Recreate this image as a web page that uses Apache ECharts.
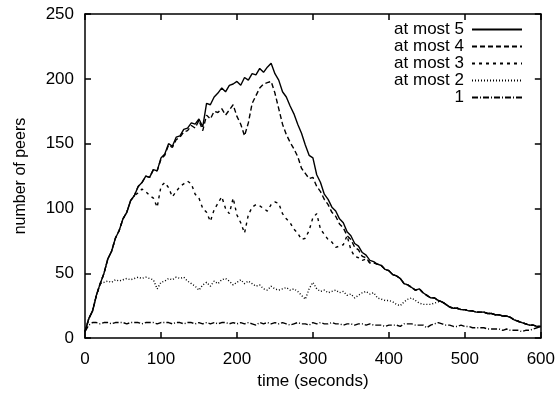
<!DOCTYPE html>
<html>
<head>
    <meta charset="utf-8">
    <title>number of peers</title>
    <script src="https://cdn.jsdelivr.net/npm/echarts@6/dist/echarts.min.js"></script>
    <style>
        body { margin: 0; background: #fff; }
        #main { width: 558px; height: 395px; }
    </style>
</head>
<body>
<div id="main"></div>
<script type="text/javascript">
    // time axis, seconds
    var times = [0,5,10,15,20,25,30,35,40,45,50,55,60,65,70,75,80,85,90,95,
        100,105,110,115,120,125,130,135,140,145,150,155,160,165,170,175,180,185,190,195,
        200,205,210,215,220,225,230,235,240,245,250,255,260,265,270,275,280,285,290,295,
        300,305,310,315,320,325,330,335,340,345,350,355,360,365,370,375,380,385,390,395,
        400,405,410,415,420,425,430,435,440,445,450,455,460,465,470,475,480,485,490,495,
        500,505,510,515,520,525,530,535,540,545,550,555,560,565,570,575,580,585,590,595,600];

    var atMost5 = [5,15,21,33,42,50,61,67,77,83,92,97,106,110,117,120,125,124,130,129,
        139,142,150,148,155,156,161,162,166,165,169,163,181,180,186,189,193,190,195,196,
        198,195,201,199,204,203,208,205,209,212,204,199,190,186,179,173,165,158,149,141,
        139,126,120,111,107,101,98,92,89,82,79,73,71,66,64,60,59,57,56,53,
        52,49,48,46,42,41,39,37,38,35,33,31,31,29,28,26,24,23,23,22,
        22,21,21,20,20,20,19,19,18,18,17,17,16,14,13,12,11,10,10,9,9];

    var atMost4 = [5,15,21,33,42,50,61,67,77,83,92,97,106,110,117,120,125,124,130,129,
        138,141,149,147,153,155,159,160,164,162,168,160,172,169,175,174,177,172,176,180,
        171,165,156,166,181,187,193,196,197,198,189,177,165,157,151,146,140,131,127,123,
        124,117,113,107,103,97,94,88,85,79,76,70,68,63,62,58,58,57,56,53,
        52,49,48,46,42,41,39,37,38,35,33,31,31,29,28,26,24,23,23,22,
        22,21,21,20,20,20,19,19,18,18,17,17,16,14,13,12,11,10,10,9,9];

    var atMost3 = [5,15,21,33,42,50,61,67,77,83,92,97,106,110,112,115,113,110,108,101,
        117,120,116,109,113,117,119,121,119,111,108,100,97,90,99,104,109,100,96,108,
        95,89,81,95,101,103,102,100,98,103,105,104,96,92,89,84,81,76,77,83,
        93,96,84,80,76,74,70,71,72,79,68,63,62,60,61,58,58,57,56,53,
        52,49,48,46,42,41,39,37,38,35,33,31,31,29,28,26,24,23,23,22,
        22,21,21,20,20,20,19,19,18,18,17,17,16,14,13,12,11,10,10,9,9];

    var atMost2 = [5,15,21,33,42,43,44,43,45,44,45,46,45,46,47,46,47,46,45,38,
        43,44,46,45,47,46,47,44,42,40,37,41,43,40,44,42,45,46,44,41,
        43,45,42,44,42,40,41,38,37,40,38,37,38,39,37,38,36,33,30,38,
        43,38,36,37,35,36,37,35,36,33,34,31,33,35,36,34,35,31,30,29,
        29,28,26,25,28,30,31,29,27,26,26,26,27,28,28,26,24,23,23,22,
        22,21,21,20,20,20,19,19,18,18,17,17,16,14,13,12,11,10,10,9,9];

    var one = [5,10,12,12,11,12,12,11,12,12,12,11,12,12,12,11,12,12,12,11,
        12,12,12,11,12,12,11,12,12,11,12,11,12,11,12,11,12,12,11,12,
        11,12,11,12,11,10,12,11,12,11,12,11,12,11,10,11,12,11,11,10,
        12,11,12,11,11,12,11,11,10,11,11,10,11,11,10,11,10,10,10,9,
        10,10,10,9,11,11,11,10,10,10,8,10,11,12,11,10,10,9,9,10,
        9,9,8,8,8,8,7,7,7,7,6,7,6,6,6,5,6,6,7,8,9];

    var seriesNames = ['at most 5', 'at most 4', 'at most 3', 'at most 2', '1'];
    var seriesValues = [atMost5, atMost4, atMost3, atMost2, one];
    var dashes = ['solid', [5, 3], [3, 4], [1, 2], [6, 2, 1, 2]];

    var xTicks = { min: 0, max: 600, interval: 100 };
    var yTicks = { min: 0, max: 250, interval: 50 };

    function pairs(vals) {
        var out = [];
        for (var i = 0; i < times.length; i++) {
            out.push([times[i], vals[i]]);
        }
        return out;
    }

    var font = 'Liberation Sans, Arial, Helvetica, sans-serif';
    var axisLine = { show: true, onZero: false, lineStyle: { color: '#000', width: 1.5 } };
    var tick = { show: true, inside: true, length: 6, lineStyle: { color: '#000', width: 1.5 } };

    var myChart = echarts.init(document.getElementById('main'));
    myChart.setOption({
        animation: false,
        backgroundColor: '#fff',
        textStyle: { fontFamily: font },
        grid: { left: 85, right: 17, top: 14, bottom: 54 },
        legend: {
            orient: 'vertical',
            align: 'right',
            right: 30,
            top: 16,
            itemWidth: 50,
            itemHeight: 10,
            itemGap: 0,
            data: seriesNames,
            itemStyle: { opacity: 0 },
            textStyle: { fontSize: 17, lineHeight: 16, color: '#000', fontFamily: font, padding: [0, 3, 0, 0] }
        },
        xAxis: [{
            type: 'value',
            min: xTicks.min, max: xTicks.max, interval: xTicks.interval,
            name: 'time (seconds)',
            nameLocation: 'middle',
            nameGap: 34,
            nameTextStyle: { fontSize: 17, color: '#000', fontFamily: font },
            axisLine: axisLine,
            axisTick: tick,
            axisLabel: { fontSize: 17, color: '#000', margin: 13, fontFamily: font },
            splitLine: { show: false }
        }, {
            type: 'value',
            position: 'top',
            min: xTicks.min, max: xTicks.max, interval: xTicks.interval,
            axisLine: axisLine,
            axisTick: tick,
            axisLabel: { show: false },
            splitLine: { show: false }
        }],
        yAxis: [{
            type: 'value',
            min: yTicks.min, max: yTicks.max, interval: yTicks.interval,
            name: 'number of peers',
            nameLocation: 'middle',
            nameGap: 56,
            nameTextStyle: { fontSize: 16, color: '#000', fontFamily: font },
            axisLine: axisLine,
            axisTick: tick,
            axisLabel: { fontSize: 17, color: '#000', margin: 11, fontFamily: font },
            splitLine: { show: false }
        }, {
            type: 'value',
            position: 'right',
            min: yTicks.min, max: yTicks.max, interval: yTicks.interval,
            axisLine: axisLine,
            axisTick: tick,
            axisLabel: { show: false },
            splitLine: { show: false }
        }],
        series: seriesValues.map(function (vals, i) {
            return {
                name: seriesNames[i],
                type: 'line',
                symbol: 'none',
                z: 10 - i,
                data: pairs(vals),
                lineStyle: { color: '#000', width: 1.4, type: dashes[i] },
                itemStyle: { color: '#000' }
            };
        })
    });
</script>
</body>
</html>
